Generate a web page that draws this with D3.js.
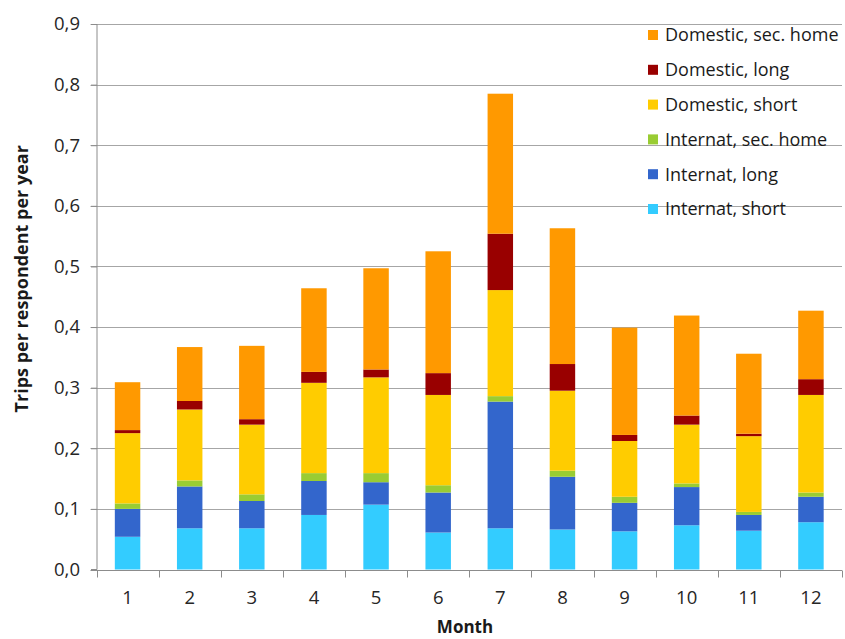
<!DOCTYPE html>
<html>
<head>
<meta charset="utf-8">
<script src="https://cdn.jsdelivr.net/npm/d3@7"></script>
<style>
  html, body { margin: 0; padding: 0; background: #fff; }
  svg { display: block; font-family: "Open Sans", "Noto Sans", sans-serif; }
</style>
</head>
<body>
<svg id="chart" width="845" height="639"></svg>
<script>
const months = ["1","2","3","4","5","6","7","8","9","10","11","12"];
const seriesNames = ["Internat, short","Internat, long","Internat, sec. home","Domestic, short","Domestic, long","Domestic, sec. home"];
const seriesColors = ["#33CCFF","#3366CC","#99CC33","#FFCC00","#990000","#FF9900"];
const internatShort   = [0.054,0.068,0.068,0.090,0.107,0.061,0.068,0.066,0.063,0.073,0.064,0.078];
const internatLong    = [0.046,0.069,0.045,0.056,0.037,0.066,0.209,0.087,0.047,0.063,0.026,0.042];
const internatSecHome = [0.009,0.010,0.011,0.013,0.015,0.012,0.009,0.010,0.010,0.006,0.005,0.007];
const domesticShort   = [0.116,0.117,0.115,0.149,0.158,0.149,0.175,0.132,0.092,0.097,0.125,0.161];
const domesticLong    = [0.005,0.014,0.009,0.018,0.013,0.036,0.093,0.044,0.010,0.015,0.004,0.026];
const domesticSecHome = [0.079,0.089,0.121,0.138,0.167,0.201,0.231,0.224,0.177,0.165,0.132,0.113];
const yTicks = [0,0.1,0.2,0.3,0.4,0.5,0.6,0.7,0.8,0.9];
const yLabel = "Trips per respondent per year";
const xLabel = "Month";

const seriesValues = [internatShort, internatLong, internatSecHome, domesticShort, domesticLong, domesticSecHome];
const keys = seriesNames;
const table = months.map((m, i) => {
  const row = { month: m };
  keys.forEach((k, j) => row[k] = seriesValues[j][i]);
  return row;
});

const svg = d3.select("#chart");
const margin = { left: 96.5, right: 3, top: 24, bottom: 69.5 };
const W = 845, H = 639;

const x = d3.scaleBand().domain(months).range([margin.left, W - margin.right]).paddingInner(0.59).paddingOuter(0.295);
const xb = d3.scaleBand().domain(months).range([margin.left, W - margin.right]);
const y = d3.scaleLinear().domain([0, 0.9]).range([H - margin.bottom, margin.top]);

// gridlines
svg.append("g").selectAll("line").data(yTicks.slice(1)).join("line")
  .attr("x1", margin.left - 6).attr("x2", W - margin.right)
  .attr("y1", d => Math.round(y(d)) + 0.5).attr("y2", d => Math.round(y(d)) + 0.5)
  .attr("stroke", "#A6A6A6").attr("stroke-width", 1);

// bars
const stack = d3.stack().keys(keys);
const stacked = stack(table);
svg.append("g").selectAll("g").data(stacked).join("g")
  .attr("fill", (d, i) => seriesColors[i])
  .selectAll("rect").data(d => d).join("rect")
  .attr("x", d => x(d.data.month))
  .attr("width", x.bandwidth())
  .attr("y", d => y(d[1]))
  .attr("height", d => y(d[0]) - y(d[1]));

// y axis
const yAxis = d3.axisLeft(y).tickValues(yTicks).tickSize(6)
  .tickFormat(d => d3.format(".1f")(d).replace(".", ","));
const gy = svg.append("g").attr("transform", `translate(${margin.left + 0.5},0)`).call(yAxis);
gy.select(".domain").attr("stroke", "#8C8C8C").attr("d", `M-6,${y(0)}H0V${y(0.9)}`);
gy.selectAll(".tick line").attr("stroke", "#8C8C8C");
gy.selectAll(".tick text").attr("x", -17).attr("font-size", 18.5).attr("fill", "#262626")
  .attr("font-family", "Open Sans");

// x axis
const baseY = Math.round(y(0)) + 0.5;
const gx = svg.append("g");
gx.append("line").attr("x1", margin.left - 6).attr("x2", W - margin.right)
  .attr("y1", baseY).attr("y2", baseY).attr("stroke", "#8C8C8C");
const bounds = months.map(m => xb(m)).concat([xb(months[months.length - 1]) + xb.bandwidth()]);
gx.selectAll("line.tk").data(bounds).join("line").attr("class", "tk")
  .attr("x1", d => Math.round(d) + 0.5).attr("x2", d => Math.round(d) + 0.5)
  .attr("y1", baseY).attr("y2", baseY + 7).attr("stroke", "#8C8C8C");
gx.selectAll("text").data(months).join("text")
  .attr("x", d => xb(d) + xb.bandwidth() / 2)
  .attr("y", 604)
  .attr("text-anchor", "middle").attr("font-size", 18.5).attr("fill", "#262626")
  .text(d => d);

// axis titles
svg.append("text").attr("transform", `translate(28,${(y(0) + y(0.9)) / 2 - 18}) rotate(-90)`)
  .attr("text-anchor", "middle").attr("font-size", 18).attr("font-weight", "bold")
  .attr("fill", "#1a1a1a").text(yLabel);
svg.append("text").attr("x", 465).attr("y", 633)
  .attr("text-anchor", "middle").attr("font-size", 17).attr("font-weight", "bold")
  .attr("fill", "#1a1a1a").text(xLabel);

// legend (reverse order)
const legendItems = keys.map((k, i) => ({ name: k, color: seriesColors[i] })).reverse();
const lg = svg.append("g");
const li = lg.selectAll("g").data(legendItems).join("g")
  .attr("transform", (d, i) => `translate(648,${35 + i * 34.8})`);
li.append("rect").attr("x", 0).attr("y", -5).attr("width", 10).attr("height", 10).attr("fill", d => d.color);
li.append("text").attr("x", 17).attr("y", 0).attr("dy", "0.35em")
  .attr("font-size", 18).attr("fill", "#1a1a1a").text(d => d.name);
</script>
</body>
</html>
